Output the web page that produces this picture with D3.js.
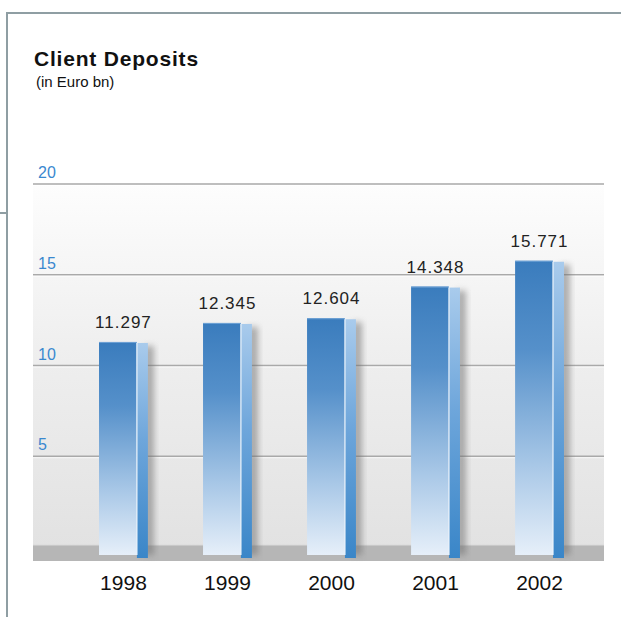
<!DOCTYPE html>
<html>
<head>
<meta charset="utf-8">
<script src="https://cdn.jsdelivr.net/npm/d3@7"></script>
<style>
  html, body { margin: 0; padding: 0; background: #ffffff; }
  svg { display: block; }
  text { font-family: "Liberation Sans", Arial, sans-serif; }
</style>
</head>
<body>
<svg id="chart" width="621" height="617"></svg>
<script>
// Client deposits, in Euro bn
const years = ["1998", "1999", "2000", "2001", "2002"];
const deposits = [11.297, 12.345, 12.604, 14.348, 15.771];
const depositLabels = ["11.297", "12.345", "12.604", "14.348", "15.771"];
const yTicks = [5, 10, 15, 20];

const svg = d3.select("#chart");
const W = 621, H = 617;

const x = d3.scaleBand().domain(years).range([47, 616]).paddingInner(0.53).paddingOuter(0.5);
const y = d3.scaleLinear().domain([0, 20]).range([547, 184]);
const plotLeft = 33, plotRight = 604;

const defs = svg.append("defs");

const bg = defs.append("linearGradient").attr("id", "bgGrad").attr("x1", 0).attr("y1", 0).attr("x2", 0).attr("y2", 1);
bg.append("stop").attr("offset", "0%").attr("stop-color", "#fdfdfd");
bg.append("stop").attr("offset", "45%").attr("stop-color", "#efefef");
bg.append("stop").attr("offset", "100%").attr("stop-color", "#e2e2e2");

const front = defs.append("linearGradient").attr("id", "frontGrad").attr("x1", 0).attr("y1", 0).attr("x2", 0).attr("y2", 1);
front.append("stop").attr("offset", "0%").attr("stop-color", "#3a7cbd");
front.append("stop").attr("offset", "30%").attr("stop-color", "#5590ca");
front.append("stop").attr("offset", "70%").attr("stop-color", "#a9c8e7");
front.append("stop").attr("offset", "100%").attr("stop-color", "#e6eff9");

const side = defs.append("linearGradient").attr("id", "sideGrad").attr("x1", 0).attr("y1", 0).attr("x2", 0).attr("y2", 1);
side.append("stop").attr("offset", "0%").attr("stop-color", "#a9cbec");
side.append("stop").attr("offset", "45%").attr("stop-color", "#6ea6db");
side.append("stop").attr("offset", "100%").attr("stop-color", "#3a86c8");

const blur = defs.append("filter").attr("id", "shadow").attr("x", "-50%").attr("y", "-10%").attr("width", "200%").attr("height", "120%");
blur.append("feGaussianBlur").attr("stdDeviation", 3);

// outer frame
const frameColor = "#8f9ea3";
svg.append("line").attr("x1", 6).attr("x2", W).attr("y1", 13).attr("y2", 13)
  .attr("stroke", frameColor).attr("stroke-width", 2);
svg.append("line").attr("x1", 7).attr("x2", 7).attr("y1", 12).attr("y2", H)
  .attr("stroke", frameColor).attr("stroke-width", 2);
svg.append("line").attr("x1", 0).attr("x2", 7).attr("y1", 213).attr("y2", 213)
  .attr("stroke", frameColor).attr("stroke-width", 2);

// title
svg.append("text").attr("x", 34).attr("y", 66)
  .attr("font-size", 21).attr("font-weight", "bold").attr("letter-spacing", 0.8).attr("fill", "#111")
  .text("Client Deposits");
svg.append("text").attr("x", 36).attr("y", 87)
  .attr("font-size", 15).attr("fill", "#111")
  .text("(in Euro bn)");

// plot background
svg.append("rect").attr("x", plotLeft).attr("y", y(20))
  .attr("width", plotRight - plotLeft).attr("height", y(0) - y(20))
  .attr("fill", "url(#bgGrad)");

// gridlines
const grid = svg.append("g");
grid.selectAll("line.g").data(yTicks).join("line")
  .attr("x1", plotLeft).attr("x2", plotRight)
  .attr("y1", d => y(d)).attr("y2", d => y(d))
  .attr("stroke", "#a9a9a9").attr("stroke-width", 1.5);
grid.selectAll("line.h").data(yTicks).join("line")
  .attr("x1", plotLeft).attr("x2", plotRight)
  .attr("y1", d => y(d) + 1.5).attr("y2", d => y(d) + 1.5)
  .attr("stroke", "#ffffff").attr("stroke-opacity", 0.7).attr("stroke-width", 1);

// y tick labels
svg.append("g").selectAll("text").data(yTicks).join("text")
  .attr("x", 38).attr("y", d => y(d) - 6)
  .attr("font-size", 16).attr("fill", "#3a88cf")
  .text(d => d);

// floor
svg.append("rect").attr("x", plotLeft).attr("y", y(0) - 2)
  .attr("width", plotRight - plotLeft).attr("height", 16)
  .attr("fill", "#b6b6b6");
svg.append("line").attr("x1", plotLeft).attr("x2", plotRight)
  .attr("y1", y(0) - 2).attr("y2", y(0) - 2)
  .attr("stroke", "#dadada").attr("stroke-width", 1);

// bars
const sideW = 11;
const bars = svg.append("g").selectAll("g.bar").data(years).join("g");
const barBottom = y(0) + 8;

bars.append("rect")
  .attr("x", (d, i) => x(d) + x.bandwidth() - 4)
  .attr("y", (d, i) => y(deposits[i]) + 4)
  .attr("width", 10)
  .attr("height", (d, i) => barBottom - y(deposits[i]) - 4)
  .attr("fill", "#6f6f6f").attr("opacity", 0.55)
  .attr("filter", "url(#shadow)");

bars.append("rect")
  .attr("x", d => x(d))
  .attr("y", (d, i) => y(deposits[i]))
  .attr("width", x.bandwidth() - sideW)
  .attr("height", (d, i) => barBottom - y(deposits[i]))
  .attr("fill", "url(#frontGrad)");

bars.append("rect")
  .attr("x", d => x(d) + x.bandwidth() - sideW)
  .attr("y", (d, i) => y(deposits[i]) + 1)
  .attr("width", sideW)
  .attr("height", (d, i) => barBottom - y(deposits[i]) + 2)
  .attr("fill", "url(#sideGrad)");

bars.append("line")
  .attr("x1", d => x(d) + x.bandwidth() - sideW)
  .attr("x2", d => x(d) + x.bandwidth() - sideW)
  .attr("y1", (d, i) => y(deposits[i]))
  .attr("y2", barBottom)
  .attr("stroke", "#eef5fc").attr("stroke-width", 1.2);

// top highlight
bars.append("line")
  .attr("x1", d => x(d))
  .attr("x2", d => x(d) + x.bandwidth() - sideW)
  .attr("y1", (d, i) => y(deposits[i]) + 0.5)
  .attr("y2", (d, i) => y(deposits[i]) + 0.5)
  .attr("stroke", "#6fa3d6").attr("stroke-width", 1);

// value labels
bars.append("text")
  .attr("x", d => x(d) + x.bandwidth() / 2)
  .attr("y", (d, i) => y(deposits[i]) - 14)
  .attr("text-anchor", "middle")
  .attr("font-size", 17).attr("letter-spacing", 1).attr("fill", "#222")
  .text((d, i) => depositLabels[i]);

// year labels
svg.append("g").selectAll("text").data(years).join("text")
  .attr("x", d => x(d) + x.bandwidth() / 2)
  .attr("y", 590)
  .attr("text-anchor", "middle")
  .attr("font-size", 21).attr("fill", "#111")
  .text(d => d);
</script>
</body>
</html>
